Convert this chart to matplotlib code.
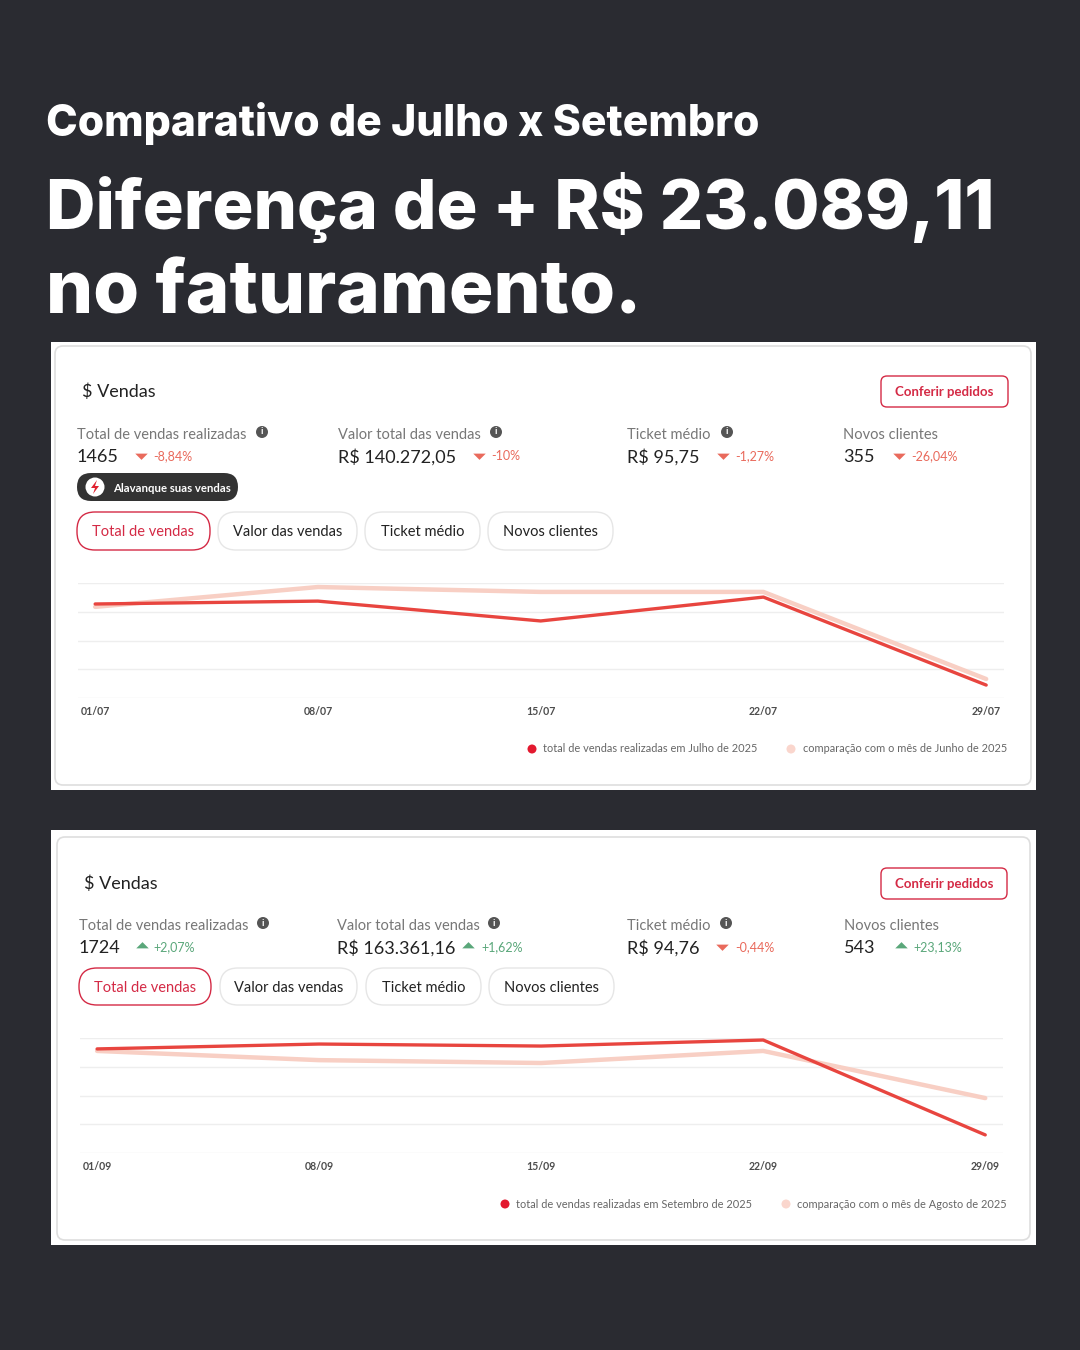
import matplotlib.pyplot as plt
from matplotlib.patches import FancyBboxPatch, Rectangle, Circle, Polygon

BG = '#2a2b31'
RED = '#e8453f'
PINK = '#f8cfc4'
RED_TXT = '#d42a45'
PCT_RED = '#e96a5c'
PCT_GREEN = '#5aa77a'
UI_FONT = 'Lato'
TITLE_FONT = 'Inter'

# --- data ---
title_1 = 'Comparativo de Julho x Setembro'
title_2 = 'Diferença de + R$ 23.089,11'
title_3 = 'no faturamento.'

metric_labels = ['Total de vendas realizadas', 'Valor total das vendas', 'Ticket médio', 'Novos clientes']
metric_info = [True, True, True, False]
tabs = ['Total de vendas', 'Valor das vendas', 'Ticket médio', 'Novos clientes']

weeks_jul = ['01/07', '08/07', '15/07', '22/07', '29/07']
vendas_jul = [327, 337, 268, 351, 45]
vendas_jun = [317, 386, 369, 369, 66]
metrics_jul = ['1465', 'R$ 140.272,05', 'R$ 95,75', '355']
change_jul = ['-8,84%', '-10%', '-1,27%', '-26,04%']
legend_jul = ['total de vendas realizadas em Julho de 2025', 'comparação com o mês de Junho de 2025']

weeks_set = ['01/09', '08/09', '15/09', '22/09', '29/09']
vendas_set = [362, 379, 372, 393, 63]
vendas_ago = [355, 323, 313, 355, 191]
metrics_set = ['1724', 'R$ 163.361,16', 'R$ 94,76', '543']
change_set = ['+2,07%', '+1,62%', '-0,44%', '+23,13%']
legend_set = ['total de vendas realizadas em Setembro de 2025', 'comparação com o mês de Agosto de 2025']

fig = plt.figure(figsize=(10.8, 13.5), dpi=100)
fig.patch.set_facecolor(BG)
ax = fig.add_axes([0, 0, 1, 1])
ax.set_xlim(0, 1080)
ax.set_ylim(1350, 0)
ax.axis('off')
renderer = fig.canvas.get_renderer()


def fit_text(x, y, s, size, target_w):
    # draw headline text, then rescale so it spans target_w pixels
    t = ax.text(x, y, s, color='white', fontsize=size, fontweight='heavy', family=TITLE_FONT, va='baseline')
    w = t.get_window_extent(renderer).width
    t.set_fontsize(size * target_w / w)
    return t


# headline
fit_text(46, 136, title_1, 32, 714)
fit_text(46, 229, title_2, 52, 949)
fit_text(46, 314, title_3, 52 * 0.98, 596)


def rbox(x0, y0, x1, y1, r, fc, ec, lw=1.0, z=2):
    p = FancyBboxPatch((x0, y0), x1 - x0, y1 - y0, boxstyle=f'round,pad=0,rounding_size={r}',
                       fc=fc, ec=ec, lw=lw, zorder=z)
    ax.add_patch(p)


TRI_DOWN = [(-1, 0.3), (1, 0.3), (0, -0.7)]
TRI_UP = [(-1, -0.3), (1, -0.3), (0, 0.7)]


def panel(box, card, y_title, btn, y_lab, y_val, cols, info_x, tri_x, pct_x, values, changes,
          tab_x, tab_y, grid_x, grid_y, weeks, cur, prev, y_tick, leg_y, leg_x, leg_txt):
    ax.add_patch(Rectangle((box[0], box[1]), box[2] - box[0], box[3] - box[1], fc='white', ec='none', zorder=1))
    rbox(card[0], card[1], card[2], card[3], 8, 'white', '#dedede', 1.2)
    ax.text(card[0] + 27, y_title + 1, '$ Vendas', fontsize=13, color='#222', family=UI_FONT, va='center', zorder=3)
    rbox(btn[0], btn[1], btn[2], btn[3], 6, 'white', RED_TXT, 1.0, z=3)
    ax.text((btn[0] + btn[2]) / 2, (btn[1] + btn[3]) / 2 + 1, 'Conferir pedidos', fontsize=9.5, color=RED_TXT,
            fontweight='bold', family=UI_FONT, ha='center', va='center', zorder=4)
    for i in range(4):
        ax.text(cols[i], y_lab + 2, metric_labels[i], fontsize=10.5, color='#777', family=UI_FONT,
                va='center', zorder=3)
        if metric_info[i]:
            ax.add_patch(Circle((info_x[i], y_lab - 1), 6, fc='#555', ec='none', zorder=3))
            ax.text(info_x[i], y_lab - 1, 'i', fontsize=7, color='white', fontweight='bold', family=UI_FONT,
                    ha='center', va='center', zorder=4)
        ax.text(cols[i], y_val + 2, values[i], fontsize=13, color='#222', family=UI_FONT, va='center', zorder=3)
        up = changes[i].startswith('+')
        c = PCT_GREEN if up else PCT_RED
        ax.plot(tri_x[i], y_val, marker=TRI_UP if up else TRI_DOWN, ms=9, color=c, mec='none', zorder=3)
        ax.text(pct_x[i], y_val + 1, changes[i], fontsize=9, color=c, family=UI_FONT, va='center', zorder=3)
    for i, t in enumerate(tabs):
        sel = i == 0
        rbox(tab_x[i][0], tab_y[0], tab_x[i][1], tab_y[1], 18, 'white', RED_TXT if sel else '#e6e6e6', 1.0, z=3)
        ax.text((tab_x[i][0] + tab_x[i][1]) / 2, (tab_y[0] + tab_y[1]) / 2 + 1, t, fontsize=10.5,
                color=RED_TXT if sel else '#222', family=UI_FONT, ha='center', va='center', zorder=4)

    # line chart
    x0, x1 = grid_x
    yt, yb = grid_y
    cax = fig.add_axes([x0 / 1080, 1 - yb / 1350, (x1 - x0) / 1080, (yb - yt) / 1350])
    cax.set_facecolor('none')
    xs = list(range(len(weeks)))
    cax.plot(xs, prev, color=PINK, lw=3.2, solid_capstyle='round', solid_joinstyle='round', clip_on=False, zorder=3)
    cax.plot(xs, cur, color=RED, lw=2.4, solid_capstyle='round', solid_joinstyle='round', clip_on=False, zorder=4)
    cax.set_xlim(-0.077, 4.08)
    cax.set_ylim(0, 400)
    cax.set_yticks([0, 100, 200, 300, 400])
    cax.set_yticklabels([])
    cax.grid(axis='y', color='#eeeeee', lw=1.0, zorder=0)
    cax.set_xticks(xs)
    cax.set_xticklabels(weeks, fontsize=7.6, fontweight='bold', color='#4d4d4d', family=UI_FONT)
    cax.tick_params(length=0, pad=y_tick - yb - 6)
    for s in cax.spines.values():
        s.set_visible(False)

    # legend
    ax.add_patch(Circle((leg_x[0], leg_y), 4.5, fc='#e3192f', ec='none', zorder=3))
    ax.text(leg_x[1], leg_y, leg_txt[0], fontsize=7.9, color='#666', family=UI_FONT, va='center', zorder=3)
    ax.add_patch(Circle((leg_x[2], leg_y), 4.5, fc='#fad6cd', ec='none', zorder=3))
    ax.text(leg_x[3], leg_y, leg_txt[1], fontsize=7.9, color='#666', family=UI_FONT, va='center', zorder=3)


panel(box=(51, 342, 1036, 790), card=(55, 346, 1031, 785), y_title=391, btn=(881, 376, 1008, 407),
      y_lab=433, y_val=455, cols=[77, 338, 627, 843], info_x=[262, 496, 727], tri_x=[141, 479, 723, 899],
      pct_x=[153, 491, 735, 911], values=metrics_jul, changes=change_jul,
      tab_x=[(77, 210), (218, 357), (365, 480), (488, 613)], tab_y=(512, 550),
      grid_x=(78, 1004), grid_y=(583, 698), weeks=weeks_jul, cur=vendas_jul, prev=vendas_jun,
      y_tick=710, leg_y=749, leg_x=[532, 543, 791, 803], leg_txt=legend_jul)

# pill "Alavanque suas vendas" (only on the July panel)
rbox(77, 473, 238, 501, 14, '#333333', 'none', z=3)
ax.add_patch(Circle((95, 487), 9.5, fc='white', ec='none', zorder=4))
ax.add_patch(Polygon([(97, 480), (91, 488), (95, 488), (93, 494), (99, 486), (95, 486)],
                     closed=True, fc='#e0202f', ec='none', zorder=5))
ax.text(113, 488, 'Alavanque suas vendas', fontsize=8.2, color='white', fontweight='bold',
        family=UI_FONT, va='center', zorder=4)

panel(box=(51, 830, 1036, 1245), card=(57, 837, 1030, 1240), y_title=883, btn=(881, 868, 1007, 899),
      y_lab=924, y_val=946, cols=[79, 337, 627, 844], info_x=[263, 494, 726], tri_x=[142, 468, 722, 901],
      pct_x=[153, 481, 735, 913], values=metrics_set, changes=change_set,
      tab_x=[(79, 211), (220, 357), (366, 481), (489, 614)], tab_y=(968, 1005),
      grid_x=(80, 1003), grid_y=(1038, 1153), weeks=weeks_set, cur=vendas_set, prev=vendas_ago,
      y_tick=1165, leg_y=1204, leg_x=[505, 516, 786, 797], leg_txt=legend_set)

plt.savefig('out.png', dpi=100, facecolor=BG)
